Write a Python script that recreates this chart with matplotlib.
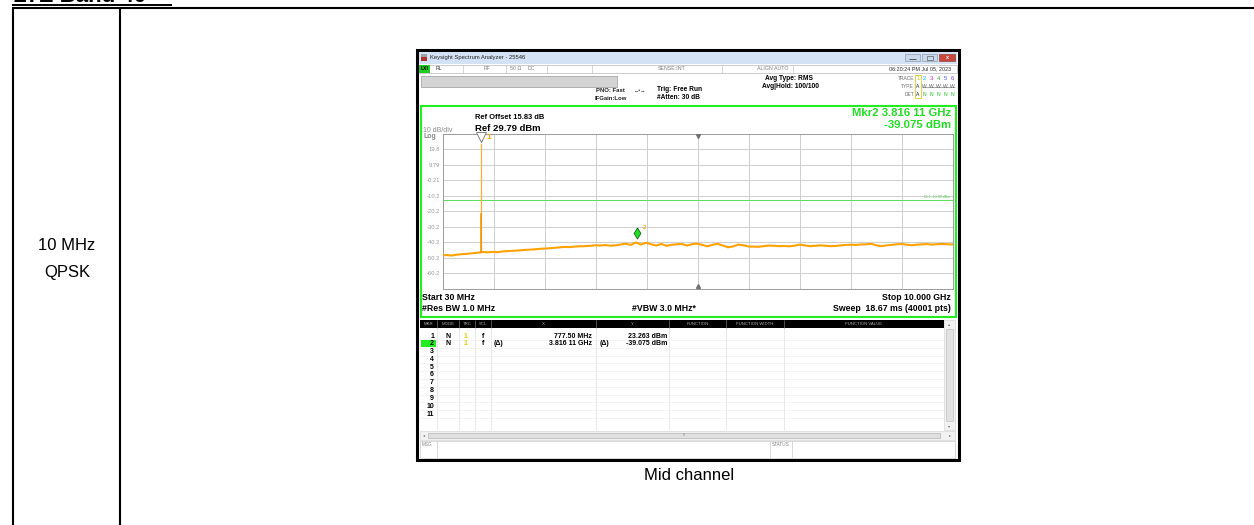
import numpy as np
import matplotlib
matplotlib.use("Agg")
import matplotlib.pyplot as plt
from matplotlib.patches import Rectangle
from matplotlib.path import Path

plt.rcParams["font.family"] = ["Liberation Sans", "DejaVu Sans"]

W, H = 1254, 525

# ---------------------------------------------------------------------------
# Values
# ---------------------------------------------------------------------------
START_MHZ = 30.0
STOP_MHZ = 10000.0
REF_LEVEL_DBM = 29.79
DB_PER_DIV = 10.0
DISPLAY_LINE_DBM = -13.00

FREQ_MHZ = [
    30, 100, 200, 300, 400, 500, 600, 700, 800, 900,
    1000, 1100, 1200, 1300, 1400, 1500, 1600, 1700, 1800, 1900,
    2000, 2100, 2200, 2300, 2400, 2500, 2600, 2700, 2800, 2900,
    3000, 3100, 3200, 3300, 3400, 3500, 3600, 3700, 3800, 3900,
    4000, 4100, 4200, 4300, 4400, 4500, 4600, 4700, 4800, 4900,
    5000, 5100, 5200, 5300, 5400, 5500, 5600, 5700, 5800, 5900,
    6000, 6100, 6200, 6300, 6400, 6500, 6600, 6700, 6800, 6900,
    7000, 7100, 7200, 7300, 7400, 7500, 7600, 7700, 7800, 7900,
    8000, 8100, 8200, 8300, 8400, 8500, 8600, 8700, 8800, 8900,
    9000, 9100, 9200, 9300, 9400, 9500, 9600, 9700, 9800, 9900,
    10000,
]
LEVEL_DBM = [
    -48.8, -48.5, -48.9, -48.3, -48.0, -47.8, -47.4, -47.1, -46.6, -46.8,
    -46.5, -46.7, -46.2, -46.0, -45.8, -45.6, -45.3, -45.1, -44.9, -44.6,
    -44.4, -44.2, -43.9, -43.6, -43.3, -43.4, -43.1, -42.9, -42.8, -42.6,
    -42.3, -42.4, -42.1, -42.5, -42.3, -41.8, -41.2, -42.0, -40.4, -41.8,
    -40.6, -41.6, -42.4, -41.4, -42.6, -41.9, -41.6, -41.4, -42.4, -41.5,
    -41.2, -42.0, -42.9, -41.9, -41.3, -42.4, -43.5, -43.0, -41.8, -42.2,
    -43.0, -43.1, -43.2, -42.8, -42.4, -42.6, -42.8, -42.7, -42.9, -42.5,
    -41.8, -42.3, -42.8, -42.6, -42.3, -42.5, -42.8, -42.7, -42.3, -42.0,
    -41.9, -42.0, -41.7, -41.6, -41.3, -42.2, -42.8, -42.3, -42.0, -41.6,
    -41.4, -41.9, -42.2, -41.8, -41.6, -41.5, -41.8, -41.5, -41.4, -41.6,
    -41.7,
]
SPIKE_BODY_TOP_DBM = -22.0

MARKER_FREQ_MHZ = [777.50, 3816.11]
MARKER_LEVEL_DBM = [23.263, -39.075]

Y_TICK_LABELS = ["19.8", "9.79", "-0.21", "-10.2", "-20.2",
                 "-30.2", "-40.2", "-50.2", "-60.2"]

TABLE_HEADERS = ["MKR", "MODE", "TRC", "SCL", "X", "Y",
                 "FUNCTION", "FUNCTION WIDTH", "FUNCTION VALUE"]
TABLE_ROWS = [
    ["1", "N", "1", "f", "", "777.50 MHz", "", "23.263 dBm"],
    ["2", "N", "1", "f", "(\u0394)", "3.816 11 GHz", "(\u0394)", "-39.075 dBm"],
]
N_TABLE_ROWS = 11

# ---------------------------------------------------------------------------
# Figure with a pixel-coordinate background axes
# ---------------------------------------------------------------------------
fig = plt.figure(figsize=(W / 100, H / 100), dpi=100)
bg = fig.add_axes([0, 0, 1, 1])
bg.set_xlim(0, W)
bg.set_ylim(H, 0)
bg.axis("off")


def line(xs, ys, color="black", lw=1.0, **kw):
    bg.plot(xs, ys, color=color, lw=lw, solid_capstyle="butt", **kw)


def box(x0, y0, x1, y1, fc="none", ec="none", lw=0.6, z=1):
    bg.add_patch(Rectangle((x0, y0), x1 - x0, y1 - y0, fc=fc, ec=ec, lw=lw, zorder=z))


def txt(x, y, s, size=5, color="black", ha="left", va="center", weight="normal", **kw):
    bg.text(x, y, s, fontsize=size, color=color, ha=ha, va=va, weight=weight, **kw)


# document table around the screenshot (heading is cut by the top edge)
txt(13, 2.5, "LTE Band 40", size=16, weight="bold", va="baseline")
line([12, 172], [5.0, 5.0], lw=1.4)
line([12, W], [8, 8], lw=1.5)
line([13, 13], [8, H], lw=1.5)
line([120, 120], [8, H], lw=1.5)
txt(67, 246, "10 MHz", size=12, ha="center")
txt(67, 273, "QPSK", size=12, ha="center")
txt(689, 475, "Mid channel", size=12, ha="center")

# screenshot frame
box(417, 50, 959, 460, fc="white", ec="black", lw=2.2, z=0)

# title bar
box(419, 52, 957, 64, fc="#d3e3f5", z=1)
box(421, 54, 427, 61, fc="#b03030", z=2)
box(421, 54, 427, 57, fc="#a0a0a0", z=2)
txt(430, 58, "Keysight Spectrum Analyzer - 25546", size=4.2, color="#202020")
box(905, 54, 920, 61, fc="#c8d8ea", ec="#7f8fa0", lw=0.4, z=2)
box(922, 54, 937, 61, fc="#c8d8ea", ec="#7f8fa0", lw=0.4, z=2)
box(939, 54, 955, 61, fc="#c9483e", ec="#8a2a20", lw=0.4, z=2)
line([909, 916], [58.5, 58.5], color="#404040", lw=0.6)
box(927, 56, 933, 60, ec="#404040", lw=0.4, z=3)
txt(947, 57.5, "x", size=4, color="white", ha="center", weight="bold")

# status row
box(419, 65, 957, 73, fc="white", ec="#a8a8a8", lw=0.4, z=1)
box(419, 65, 430, 73, fc="#22cc22", z=2)
txt(421, 69, "LXI", size=3.6, weight="bold")
txt(436, 69, "RL", size=3.8, color="#303030")
txt(484, 69, "RF", size=3.8, color="#808080")
txt(510, 69, "50 \u03a9", size=3.8, color="#808080")
txt(528, 69, "DC", size=3.8, color="#808080")
txt(658, 69, "SENSE:INT", size=3.8, color="#808080")
txt(757, 69, "ALIGN AUTO", size=3.8, color="#808080")
txt(951, 69, "06:20:24 PM Jul 05, 2023", size=3.9, color="#303030", ha="right")
for sx in [463, 506, 547, 592, 722, 793]:
    line([sx, sx], [65, 73], color="#b8b8b8", lw=0.4)

# setting block
box(421, 76, 617, 87, fc="#d4d4d4", ec="#9a9a9a", lw=0.5, z=1)
txt(625, 91, "PNO: Fast", size=4.3, color="#202020", ha="right", weight="bold")
txt(627, 98, "IFGain:Low", size=4.3, color="#202020", ha="right", weight="bold")
txt(640, 90, "\u2190\u2022\u2192", size=3.8, color="#202020", ha="center")
txt(657, 89.5, "Trig: Free Run", size=4.8, weight="bold")
txt(657, 97.5, "#Atten: 30 dB", size=4.8, weight="bold")
txt(789, 79, "Avg Type: RMS", size=4.8, weight="bold", ha="center")
txt(791, 87, "Avg|Hold: 100/100", size=4.8, weight="bold", ha="center")
txt(914, 79, "TRACE", size=3.5, color="#707070", ha="right")
txt(914, 87, "TYPE", size=3.5, color="#707070", ha="right")
txt(914, 94, "DET", size=3.5, color="#707070", ha="right")
trace_cols = ["#d8c000", "#00b8d8", "#e020e0", "#20c020", "#4060ff", "#9040d0"]
for i, c in enumerate(trace_cols):
    xx = 918 + i * 6.8
    txt(xx, 79, str(i + 1), size=4.2, color=c, ha="center")
    txt(xx, 87, "W" if i else "A", size=3.6, color="#606060" if i else "#202020", ha="center")
    txt(xx, 94, "N" if i else "A", size=3.6, color="#20c020" if i else "#202020", ha="center")
box(915, 75, 921, 98, ec="#d8c000", lw=0.5, z=2)
line([922, 955], [87, 87], color="#606060", lw=0.4)

# green display frame
box(420.5, 106, 955.5, 316.5, ec="#22ee22", lw=1.5, z=1)
txt(475, 117.5, "Ref Offset 15.83 dB", size=5.4, weight="bold")
txt(475, 128.5, "Ref 29.79 dBm", size=6.8, weight="bold")
txt(423, 130, "10 dB/div", size=5.0, color="#8a8a8a")
txt(424, 136.5, "Log", size=5.0, color="#8a8a8a", weight="bold")
txt(951, 113.5, "Mkr2 3.816 11 GHz", size=8.2, color="#22dd22", ha="right", weight="bold")
txt(951, 125.5, "-39.075 dBm", size=8.2, color="#22dd22", ha="right", weight="bold")
txt(422, 297, "Start 30 MHz", size=6.3, weight="bold")
txt(422, 308.5, "#Res BW 1.0 MHz", size=6.3, weight="bold")
txt(664, 308.5, "#VBW 3.0 MHz*", size=6.3, weight="bold", ha="center")
txt(951, 297, "Stop 10.000 GHz", size=6.3, weight="bold", ha="right")
txt(951, 308.5, "Sweep  18.67 ms (40001 pts)", size=6.3, weight="bold", ha="right")

# marker table
COL_X = [420, 437, 459, 475, 491, 596, 669, 726, 784, 944]
TOP_T, ROW_H = 320, 7.8
box(420, TOP_T, 944, TOP_T + 8, fc="black", z=2)
for i, head in enumerate(TABLE_HEADERS):
    cx = (COL_X[i] + COL_X[i + 1]) / 2
    txt(cx, TOP_T + 4, head, size=3.1, color="#b0b0b0", ha="center", zorder=3)
    if i:
        line([COL_X[i], COL_X[i]], [TOP_T, TOP_T + 8], color="#707070", lw=0.5, zorder=3)
        line([COL_X[i], COL_X[i]], [TOP_T + 8, 430], color="#e0e0e0", lw=0.5)
row_y0 = TOP_T + 16
for r in range(N_TABLE_ROWS):
    yy = row_y0 + r * ROW_H
    line([420, 944], [yy + 3.9, yy + 3.9], color="#ececec", lw=0.4)
    if r == 1:
        box(421, yy - 3.6, 436, yy + 3.6, fc="#22ee22", z=2)
    txt(434, yy, str(r + 1), size=5.0, weight="bold", ha="right", zorder=3)
for r, row in enumerate(TABLE_ROWS):
    yy = row_y0 + r * ROW_H
    txt(448, yy, row[1], size=5.0, weight="bold", ha="center")
    txt(466, yy, row[2], size=5.0, weight="bold", ha="center", color="#e8cc00")
    txt(483, yy, row[3], size=5.0, weight="bold", ha="center")
    txt(494, yy, row[4], size=5.0, weight="bold")
    txt(592, yy, row[5], size=5.0, weight="bold", ha="right")
    txt(600, yy, row[6], size=5.0, weight="bold")
    txt(667, yy, row[7], size=5.0, weight="bold", ha="right")
# scroll bars
box(944, TOP_T, 955, 430, fc="#f2f2f2", ec="#d0d0d0", lw=0.4, z=1)
box(946, TOP_T + 9, 953, 421, fc="#e2e2e2", ec="#b8b8b8", lw=0.4, z=2)
txt(949.5, TOP_T + 4, "\u25b4", size=3, color="#707070", ha="center")
txt(949.5, 426, "\u25be", size=3, color="#707070", ha="center")
box(420, 431, 955, 439.5, fc="#f2f2f2", ec="#d0d0d0", lw=0.4, z=1)
box(428, 432.5, 940, 438, fc="#e0e0e0", ec="#a8a8a8", lw=0.4, z=2)
txt(684, 435, "III", size=2.6, color="#808080", ha="center", zorder=3)
txt(423, 435, "\u25c2", size=3, color="#707070", zorder=3)
txt(949, 435, "\u25b8", size=3, color="#707070", zorder=3)
# message row
box(420, 441, 955, 457.5, fc="white", ec="#c0c0c0", lw=0.4, z=1)
line([437, 437], [441, 457.5], color="#c0c0c0", lw=0.4)
line([770, 770], [441, 457.5], color="#c0c0c0", lw=0.4)
line([792, 792], [441, 457.5], color="#c0c0c0", lw=0.4)
txt(421.5, 444.5, "MSG", size=3.3, color="#808080")
txt(772, 444.5, "STATUS", size=3.3, color="#808080")

# ---------------------------------------------------------------------------
# Graticule with the measured trace
# ---------------------------------------------------------------------------
GX0, GX1, GY0, GY1 = 443, 953, 134, 288.5
ax = fig.add_axes([GX0 / W, 1 - GY1 / H, (GX1 - GX0) / W, (GY1 - GY0) / H])
ax.set_xlim(START_MHZ, STOP_MHZ)
ax.set_ylim(REF_LEVEL_DBM - 10 * DB_PER_DIV, REF_LEVEL_DBM)
ax.patch.set_alpha(0)
span = STOP_MHZ - START_MHZ
ax.set_xticks([START_MHZ + span * k / 10 for k in range(1, 10)])
ax.set_yticks([REF_LEVEL_DBM - DB_PER_DIV * k for k in range(1, 10)])
ax.set_yticklabels(Y_TICK_LABELS)
ax.tick_params(length=0, labelsize=4.2, labelcolor="#9a9a9a", pad=2)
ax.tick_params(axis="x", labelbottom=False)
ax.grid(True, color="#c8c8c8", lw=0.6)
for s in ax.spines.values():
    s.set_color("#9a9a9a")
    s.set_linewidth(0.7)

ax.axhline(DISPLAY_LINE_DBM, color="#55e055", lw=0.7)
ax.text(STOP_MHZ - 60, DISPLAY_LINE_DBM + 0.6, "DL1 -13.00 dBm", fontsize=2.6,
        color="#55d055", ha="right", va="bottom")

trace_color = "#ffa200"
ax.plot(FREQ_MHZ, LEVEL_DBM, color=trace_color, lw=1.5, zorder=3)
spike_base = np.interp(MARKER_FREQ_MHZ[0], FREQ_MHZ, LEVEL_DBM)
ax.plot([MARKER_FREQ_MHZ[0]] * 2, [spike_base, MARKER_LEVEL_DBM[0]],
        color="#ffac30", lw=0.9, zorder=3)
ax.plot([MARKER_FREQ_MHZ[0]] * 2, [spike_base, SPIKE_BODY_TOP_DBM],
        color="#f09000", lw=1.1, zorder=3)

# marker 1: hollow triangle at the top of the spike
ax.plot(MARKER_FREQ_MHZ[0], MARKER_LEVEL_DBM[0] + 4.3, marker="v", ms=6.5,
        mfc="white", mec="#707070", mew=0.6, clip_on=False, zorder=4)
ax.annotate("1", (MARKER_FREQ_MHZ[0], MARKER_LEVEL_DBM[0] + 4.3), xytext=(3.5, 0),
            textcoords="offset points", fontsize=6, color=trace_color,
            va="center", weight="bold", annotation_clip=False)

# marker 2: green diamond sitting on the trace
diamond = Path([(0, 1), (0.62, 0), (0, -1), (-0.62, 0), (0, 1)])
ax.plot(MARKER_FREQ_MHZ[1], MARKER_LEVEL_DBM[1] + 4.6, marker=diamond, ms=8,
        mfc="#22dd22", mec="#005500", mew=0.5, zorder=5)
ax.annotate("2", (MARKER_FREQ_MHZ[1], MARKER_LEVEL_DBM[1] + 4.6), xytext=(4.5, 4),
            textcoords="offset points", fontsize=4.2, color=trace_color,
            va="center", weight="bold")

# center-frequency ticks top and bottom
center = (START_MHZ + STOP_MHZ) / 2
ax.plot(center, REF_LEVEL_DBM - 1.4, marker="v", ms=2.8, color="#707070", zorder=4)
ax.plot(center, REF_LEVEL_DBM - 10 * DB_PER_DIV + 1.4, marker="^", ms=2.8,
        color="#707070", zorder=4)

fig.savefig("out.png", dpi=100)
